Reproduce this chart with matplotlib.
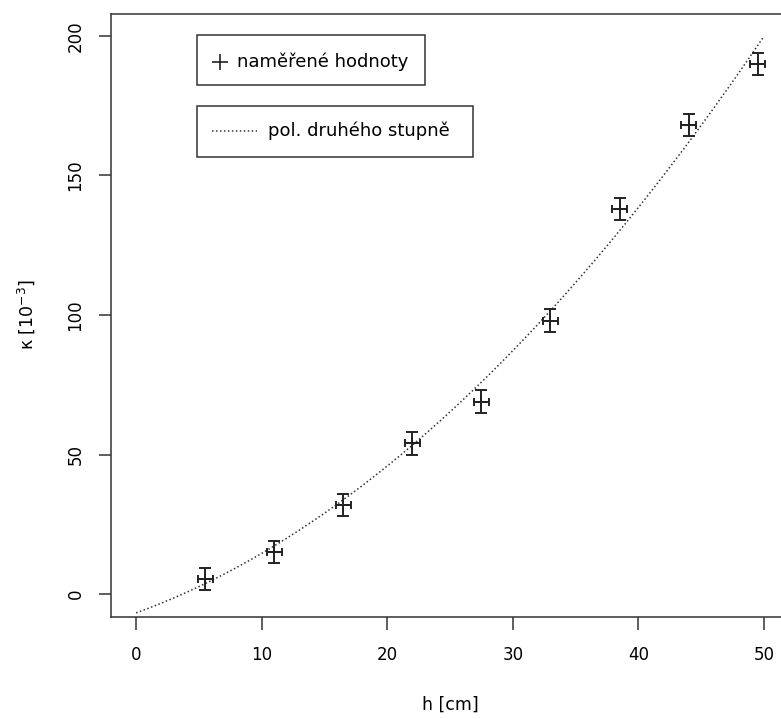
import numpy as np
import matplotlib
matplotlib.use("Agg")
import matplotlib.pyplot as plt
from matplotlib.patches import Rectangle
from matplotlib.lines import Line2D

plt.rcParams['font.family'] = ['DejaVu Sans']

# ---- data ----
h_cm = [5.5, 11.0, 16.5, 22.0, 27.5, 33.0, 38.5, 44.0, 49.5]
kappa = [5.5, 15.0, 32.0, 54.0, 69.0, 98.0, 138.0, 168.0, 190.0]
h_err = 0.6
kappa_err = 4.0
# quadratic fit coefficients (c0 + c1*h + c2*h^2)
fit_coef = [-6.7, 1.63, 0.0500]
fit_range = [0.0, 50.0]
x_ticks = [0, 10, 20, 30, 40, 50]
y_ticks = [0, 50, 100, 150, 200]
legend_labels = ["naměřené hodnoty", "pol. druhého stupně"]
xlabel = "h [cm]"
ylabel = r"κ [10$^{-3}$]"

W, H = 781, 719
fig = plt.figure(figsize=(W / 100, H / 100), dpi=100)

def fx(x):
    return x / W

def fy(y):
    return 1 - y / H

ax_l, ax_r, ax_t, ax_b = 111, 789, 13.5, 616.5
ax = fig.add_axes([fx(ax_l), fy(ax_b), (ax_r - ax_l) / W, (ax_b - ax_t) / H])
ax.set_xlim(-2, 52)
ax.set_ylim(-8, 208)

# fit curve
xx = np.linspace(fit_range[0], fit_range[1], 300)
yy = fit_coef[0] + fit_coef[1] * xx + fit_coef[2] * xx ** 2
ax.plot(xx, yy, linestyle=(0, (1, 1.6)), color='#333333', lw=1.1)

# error bars
ax.errorbar(h_cm, kappa, yerr=kappa_err, fmt='none', ecolor='#222222',
            elinewidth=1.4, capsize=4.2, capthick=1.4)
ax.errorbar(h_cm, kappa, xerr=h_err, fmt='none', ecolor='#222222',
            elinewidth=1.4, capsize=2.8, capthick=1.4)
ax.plot(h_cm, kappa, linestyle='none', marker='+', markersize=9,
        markeredgewidth=1.4, color='#222222')

for s in ['left', 'top', 'bottom', 'right']:
    ax.spines[s].set_linewidth(1.1)
    ax.spines[s].set_color('#333333')

ax.set_xticks(x_ticks)
ax.set_yticks(y_ticks)
ax.tick_params(direction='out', length=9, width=1.1, color='#333333',
               labelsize=12, pad=12)
ax.tick_params(axis='y', pad=10)
for lab in ax.get_yticklabels():
    lab.set_rotation(90)
    lab.set_va('center')

fig.text(fx(450), fy(705), xlabel, ha='center', va='center', fontsize=12.5)
fig.text(fx(26), fy(315), ylabel, ha='center', va='center', rotation=90,
         fontsize=12.5)

# legends (drawn as boxes in pixel positions)
def box(x0, y0, x1, y1):
    fig.patches.append(Rectangle((fx(x0), fy(y1)), (x1 - x0) / W, (y1 - y0) / H,
                                 transform=fig.transFigure, fill=False,
                                 edgecolor='#333333', lw=1.1))

box(197, 35, 425, 85)
fig.lines.append(Line2D([fx(220)], [fy(62)], marker='+', markersize=11,
                        markeredgewidth=1.2, color='#222222',
                        transform=fig.transFigure))
fig.text(fx(237), fy(62), legend_labels[0], ha='left', va='center', fontsize=13)

box(197, 106, 473, 157)
fig.lines.append(Line2D([fx(212), fx(257)], [fy(131), fy(131)],
                        linestyle=(0, (1, 1.6)), color='#333333', lw=1.1,
                        transform=fig.transFigure))
fig.text(fx(268), fy(131), legend_labels[1], ha='left', va='center', fontsize=13)

fig.savefig("out.png", dpi=100)
